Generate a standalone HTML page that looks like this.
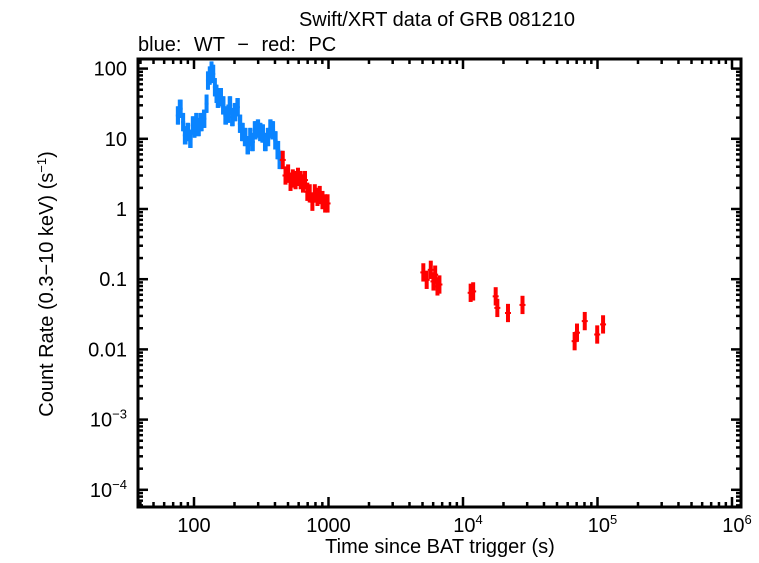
<!DOCTYPE html>
<html><head><meta charset="utf-8"><style>
body{margin:0;background:#fff;}
svg text{font-family:"Liberation Sans",Arial,sans-serif;fill:#000;}
</style></head><body>
<svg id="chart" width="759" height="558" viewBox="0 0 759 558" xmlns="http://www.w3.org/2000/svg">
<rect x="0" y="0" width="759" height="558" fill="#fff"/>
<text x="437" y="26" font-size="20" text-anchor="middle">Swift/XRT data of GRB 081210</text>
<text x="138" y="51" font-size="20" word-spacing="7">blue: WT − red: PC</text>
<text transform="translate(53,284) rotate(-90)" font-size="20" text-anchor="middle">Count Rate (0.3−10 keV) (s<tspan dy="-7" font-size="13">−1</tspan><tspan dy="7">)</tspan></text>
<text x="440" y="553" font-size="20" text-anchor="middle">Time since BAT trigger (s)</text>
<g id="marks"></g>
<g id="axes"></g>
</svg>
<script>
const wtTimes=[76,79,83,86,90,94,98,101,104,108,113,119,124,127,131,135,139,143,147,151,158,165,172,180,185,193,202,211,220,229,240,251,262,272,285,299,311,324,339,355,370,385,403,420,440];
const wtRates=[21.5,26.8,17.3,11.2,12.5,10,15.5,14,17.3,14.7,17.3,19.3,31.6,67.6,79.6,93.7,84,54.3,43.7,37.2,39.2,29.9,21.5,22.8,29.9,20.4,24,28.2,16.4,12.5,10.6,8.1,10.6,9.0,13.2,14,12.5,11.9,9.0,10.6,14,13.2,9.5,6.9,5.0];
const pcTimes=[457,479,501,522,543,569,593,621,646,669,696,725,759,791,828,861,902,944,984,5070,5370,5760,6030,6210,6460,6680,11400,11900,17500,18000,21600,27700,67600,70400,80400,99500,110000];
const pcRates=[5.0,3.0,3.2,2.44,2.72,2.58,2.87,2.58,2.31,2.58,1.76,1.67,1.27,1.67,1.49,1.58,1.34,1.2,1.2,0.125,0.098,0.136,0.093,0.116,0.079,0.084,0.064,0.067,0.057,0.039,0.033,0.043,0.0131,0.0173,0.0253,0.0163,0.0227];
const xTickVals=[100,1000,1e4,1e5,1e6];
const xTickLabels=["100","1000","10^4","10^5","10^6"];
const yTickVals=[100,10,1,0.1,0.01,1e-3,1e-4];
const yTickLabels=["100","10","1","0.1","0.01","10^−3","10^−4"];

const L=138,R=741,T=59,B=507;
const X=v=>194+134.5*(Math.log10(v)-2);
const Y=v=>209-70.2*Math.log10(v);
const NS="http://www.w3.org/2000/svg";
function mk(tag,attrs,parent){const e=document.createElementNS(NS,tag);for(const k in attrs)e.setAttribute(k,attrs[k]);parent.appendChild(e);return e;}
const marks=document.getElementById('marks');
const axes=document.getElementById('axes');

function drawSeries(times,rates,color,name,err,dense){
  for(let i=0;i<times.length;i++){
    const t=times[i],r=rates[i];
    const g=mk('g',{},marks);
    
    
    mk('line',{x1:X(t),x2:X(t),y1:Y(r*(1+err)),y2:Y(r/(1+err)),stroke:color,'stroke-width':dense?3:4},g);
    let hw=3;
    if(dense&&i<times.length-1)hw=Math.max(2,(X(times[i+1])-X(t))/2+1);
    mk('line',{x1:X(t)-hw,x2:X(t)+hw,y1:Y(r),y2:Y(r),stroke:color,'stroke-width':2},g);
    if(dense){mk('rect',{x:X(t)-hw,y:Y(r*(1+err)),width:2*hw,height:Y(r/(1+err))-Y(r*(1+err)),fill:color},g);}
  }
}
drawSeries(wtTimes,wtRates,'#0a84ff','wt-series',0.35,true);
drawSeries(pcTimes,pcRates,'#ff0000','pc-series',0.35,false);

const frame=mk('rect',{x:L,y:T,width:R-L,height:B-T,fill:'none',stroke:'#000','stroke-width':3},axes);



for(let d=1;d<=6;d++){for(let m=1;m<10;m++){const v=m*Math.pow(10,d);const x=X(v);if(x<L||x>R)continue;const len=m===1?10:5;
  mk('line',{x1:x,x2:x,y1:B,y2:B-len,stroke:'#000','stroke-width':2.5},axes);
  mk('line',{x1:x,x2:x,y1:T,y2:T+len,stroke:'#000','stroke-width':2.5},axes);}}
for(let d=-5;d<=2;d++){for(let m=1;m<10;m++){const v=m*Math.pow(10,d);const y=Y(v);if(y<T||y>B)continue;const len=m===1?10:5;
  mk('line',{x1:L,x2:L+len,y1:y,y2:y,stroke:'#000','stroke-width':2.5},axes);
  mk('line',{x1:R,x2:R-len,y1:y,y2:y,stroke:'#000','stroke-width':2.5},axes);}}

function label(txt,x,y,anchor,nm){
  const t=mk('text',{x:x,y:y,'font-size':20,'text-anchor':anchor},axes);
  
  
  const p=txt.split('^');
  t.appendChild(document.createTextNode(p[0]));
  if(p[1]){const s=mk('tspan',{dy:-8,'font-size':13},t);s.textContent=p[1];}
}
xTickVals.forEach((v,i)=>label(xTickLabels[i],X(v)+(xTickLabels[i].includes('^')?5:0),532,'middle','x-tick-label'));
yTickVals.forEach((v,i)=>label(yTickLabels[i],127,Y(v)+7,'end','y-tick-label'));
</script>
</body></html>
